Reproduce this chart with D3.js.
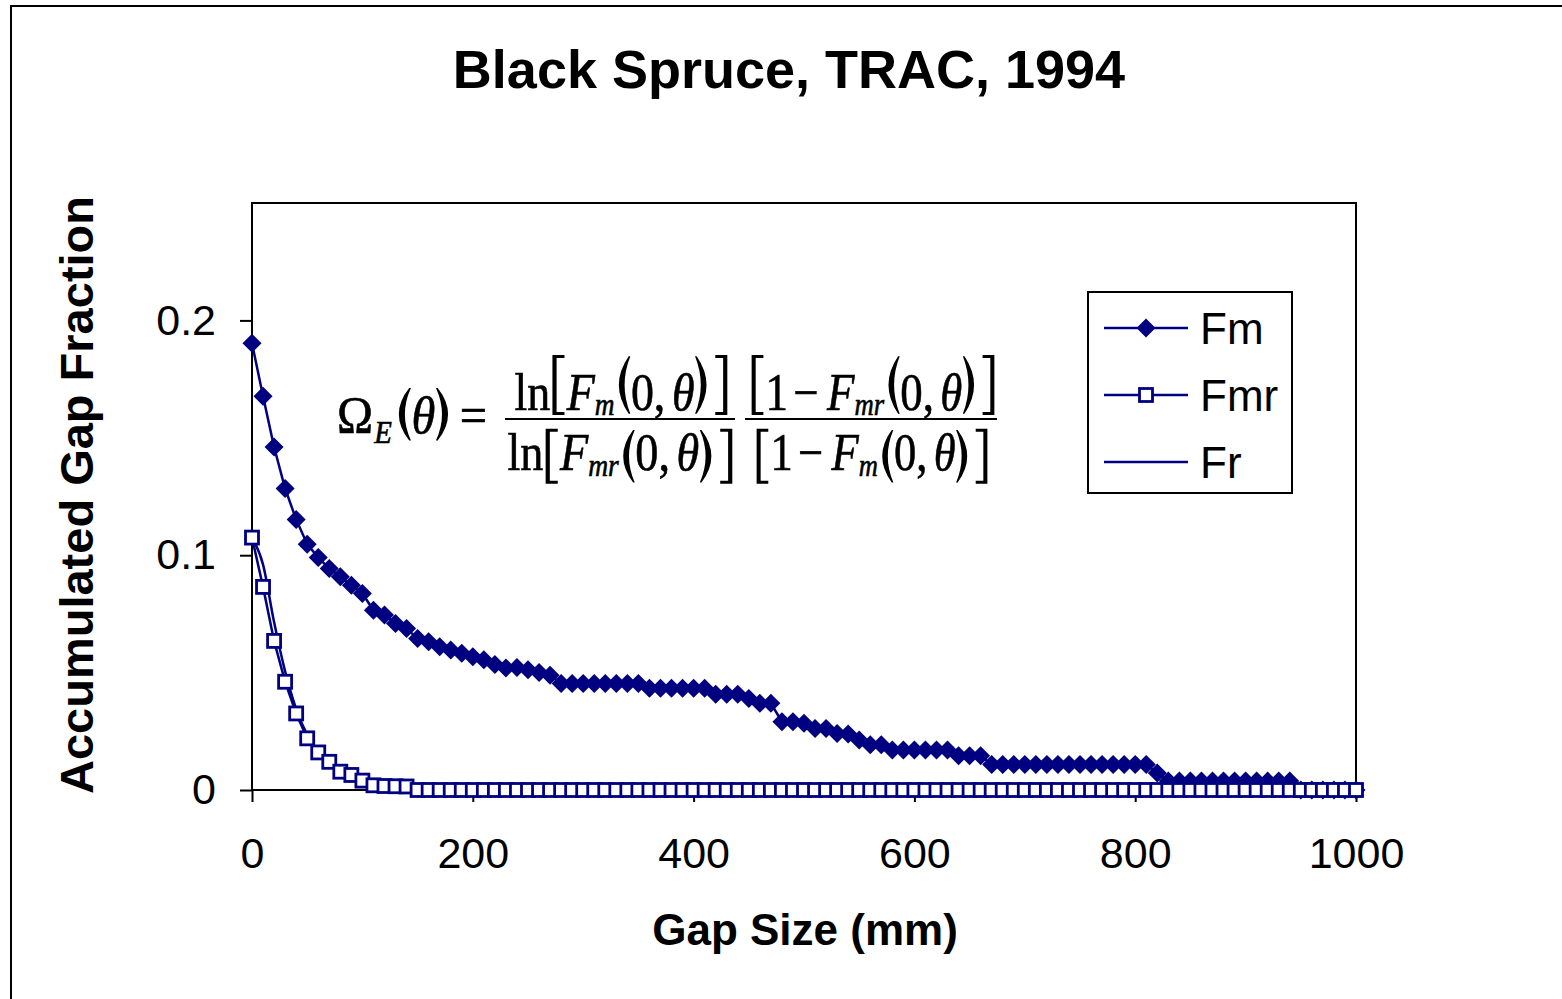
<!DOCTYPE html>
<html>
<head>
<meta charset="utf-8">
<script src="https://cdn.jsdelivr.net/npm/d3@7"></script>
<style>
  body { margin: 0; background: #fff; }
  svg { display: block; }
</style>
</head>
<body>
<div id="chart"></div>
<script>
// gap sizes (mm), sampled every 10 mm
const gapSizes = [
  0, 10, 20, 30, 40, 50, 60, 70, 80, 90,
  100, 110, 120, 130, 140, 150, 160, 170, 180, 190,
  200, 210, 220, 230, 240, 250, 260, 270, 280, 290,
  300, 310, 320, 330, 340, 350, 360, 370, 380, 390,
  400, 410, 420, 430, 440, 450, 460, 470, 480, 490,
  500, 510, 520, 530, 540, 550, 560, 570, 580, 590,
  600, 610, 620, 630, 640, 650, 660, 670, 680, 690,
  700, 710, 720, 730, 740, 750, 760, 770, 780, 790,
  800, 810, 820, 830, 840, 850, 860, 870, 880, 890,
  900, 910, 920, 930, 940, 950, 960, 970, 980, 990,
  1000
];

const fm = [
  0.1903, 0.1677, 0.1461, 0.1284, 0.1152, 0.1047, 0.0990, 0.0943, 0.0908, 0.0872,
  0.0837, 0.0766, 0.0745, 0.0709, 0.0688, 0.0645, 0.0631, 0.0610, 0.0596, 0.0582,
  0.0567, 0.0555, 0.0535, 0.0520, 0.0522, 0.0512, 0.0500, 0.0489, 0.0454, 0.0454,
  0.0454, 0.0454, 0.0454, 0.0454, 0.0454, 0.0454, 0.0433, 0.0433, 0.0433, 0.0433,
  0.0433, 0.0433, 0.0408, 0.0408, 0.0408, 0.0390, 0.0369, 0.0369, 0.0291, 0.0291,
  0.0284, 0.0262, 0.0262, 0.0241, 0.0238, 0.0213, 0.0193, 0.0193, 0.0170, 0.0170,
  0.0170, 0.0170, 0.0170, 0.0170, 0.0146, 0.0146, 0.0146, 0.0109, 0.0109, 0.0109,
  0.0109, 0.0109, 0.0109, 0.0109, 0.0109, 0.0109, 0.0109, 0.0109, 0.0109, 0.0109,
  0.0109, 0.0109, 0.0072, 0.0038, 0.0038, 0.0038, 0.0038, 0.0038, 0.0038, 0.0038,
  0.0038, 0.0038, 0.0038, 0.0038, 0.0038, 0, 0, 0, 0, 0,
  0
];

const fmr = [
  0.1075, 0.0865, 0.0635, 0.0461, 0.0326, 0.0220, 0.0160, 0.0120, 0.0078, 0.0064,
  0.0040, 0.0020, 0.0017, 0.0016, 0.0015, 0, 0, 0, 0, 0,
  0, 0, 0, 0, 0, 0, 0, 0, 0, 0,
  0, 0, 0, 0, 0, 0, 0, 0, 0, 0,
  0, 0, 0, 0, 0, 0, 0, 0, 0, 0,
  0, 0, 0, 0, 0, 0, 0, 0, 0, 0,
  0, 0, 0, 0, 0, 0, 0, 0, 0, 0,
  0, 0, 0, 0, 0, 0, 0, 0, 0, 0,
  0, 0, 0, 0, 0, 0, 0, 0, 0, 0,
  0, 0, 0, 0, 0, 0, 0, 0, 0, 0,
  0
];

const fr = [
  0.1075, 0.0960, 0.0715, 0.0505, 0.0345, 0.0235, 0.0165, 0.0115, 0.0080, 0.0052,
  0.0035, 0.0022, 0.0014, 0.0008, 0.0004, 0, 0, 0, 0, 0,
  0, 0, 0, 0, 0, 0, 0, 0, 0, 0,
  0, 0, 0, 0, 0, 0, 0, 0, 0, 0,
  0, 0, 0, 0, 0, 0, 0, 0, 0, 0,
  0, 0, 0, 0, 0, 0, 0, 0, 0, 0,
  0, 0, 0, 0, 0, 0, 0, 0, 0, 0,
  0, 0, 0, 0, 0, 0, 0, 0, 0, 0,
  0, 0, 0, 0, 0, 0, 0, 0, 0, 0,
  0, 0, 0, 0, 0, 0, 0, 0, 0, 0,
  0
];

const xTicks = [0, 200, 400, 600, 800, 1000];
const yTicks = [0, 0.1, 0.2];
const legendNames = ['Fm', 'Fmr', 'Fr'];

const width = 1562;
const height = 999;
const navy = '#000080';
const sans = 'Liberation Sans, Arial, sans-serif';
const serif = 'Liberation Serif, Times New Roman, serif';

const margin = { left: 252, right: 1356, top: 203, bottom: 790 };

const svg = d3.select('#chart')
  .append('svg')
  .attr('width', width)
  .attr('height', height);

// outer chart border
svg.append('rect')
  .attr('x', 11).attr('y', 6)
  .attr('width', 1600).attr('height', 1100)
  .attr('fill', '#fff')
  .attr('stroke', '#000')
  .attr('stroke-width', 2);

const x = d3.scaleLinear()
  .domain([0, 1000])
  .range([margin.left, margin.right]);

const y = d3.scaleLinear()
  .domain([0, 0.25])
  .range([margin.bottom, margin.top]);

// title
svg.append('text')
  .attr('x', 789).attr('y', 88)
  .attr('text-anchor', 'middle')
  .attr('font-family', sans)
  .attr('font-weight', 'bold')
  .attr('font-size', 54)
  .text('Black Spruce, TRAC, 1994');

// axes
const xAxis = svg.append('g')
  .attr('transform', `translate(0,${margin.bottom})`)
  .call(d3.axisBottom(x).tickValues(xTicks).tickSize(12).tickPadding(35).tickFormat(d3.format('d')));

const yAxis = svg.append('g')
  .attr('transform', `translate(${margin.left},0)`)
  .call(d3.axisLeft(y).tickValues(yTicks).tickSize(12).tickPadding(24).tickFormat(d => d === 0 ? '0' : d3.format('.1f')(d)));

[xAxis, yAxis].forEach(ax => {
  ax.select('.domain').remove();
  ax.selectAll('line').attr('stroke', '#000').attr('stroke-width', 2);
  ax.selectAll('text')
    .attr('font-family', sans)
    .attr('font-size', 43)
    .attr('fill', '#000');
});

// plot frame
svg.append('rect')
  .attr('x', margin.left).attr('y', margin.top)
  .attr('width', margin.right - margin.left)
  .attr('height', margin.bottom - margin.top)
  .attr('fill', 'none')
  .attr('stroke', '#000')
  .attr('stroke-width', 2);

// axis titles
svg.append('text')
  .attr('x', 805).attr('y', 945)
  .attr('text-anchor', 'middle')
  .attr('font-family', sans)
  .attr('font-weight', 'bold')
  .attr('font-size', 44)
  .text('Gap Size (mm)');

svg.append('text')
  .attr('transform', 'translate(93,495) rotate(-90)')
  .attr('text-anchor', 'middle')
  .attr('font-family', sans)
  .attr('font-weight', 'bold')
  .attr('font-size', 47)
  .text('Accumulated Gap Fraction');

// series
const diamond = 'M0,-9.5L9.5,0L0,9.5L-9.5,0Z';
const fmData = gapSizes.map((g, i) => [g, fm[i]]);
const fmrData = gapSizes.map((g, i) => [g, fmr[i]]);
const frData = gapSizes.map((g, i) => [g, fr[i]]);

const line = d3.line().x(d => x(d[0])).y(d => y(d[1]));

svg.append('path')
  .datum(fmData)
  .attr('d', line)
  .attr('fill', 'none')
  .attr('stroke', navy)
  .attr('stroke-width', 2.5);

svg.append('g')
  .selectAll('path')
  .data(fmData)
  .enter()
  .append('path')
  .attr('d', diamond)
  .attr('transform', d => `translate(${x(d[0])},${y(d[1])})`)
  .attr('fill', navy);

svg.append('path')
  .datum(frData)
  .attr('d', d3.line().x(d => x(d[0])).y(d => y(d[1])).curve(d3.curveMonotoneX))
  .attr('fill', 'none')
  .attr('stroke', navy)
  .attr('stroke-width', 2.5);

svg.append('path')
  .datum(fmrData)
  .attr('d', line)
  .attr('fill', 'none')
  .attr('stroke', navy)
  .attr('stroke-width', 2.5);

svg.append('g')
  .selectAll('rect')
  .data(fmrData)
  .enter()
  .append('rect')
  .attr('x', d => x(d[0]) - 6.5)
  .attr('y', d => y(d[1]) - 6.5)
  .attr('width', 13)
  .attr('height', 13)
  .attr('fill', '#fff')
  .attr('stroke', navy)
  .attr('stroke-width', 2.8);

// legend
const legend = svg.append('g');
legend.append('rect')
  .attr('x', 1088).attr('y', 292)
  .attr('width', 204).attr('height', 201)
  .attr('fill', '#fff')
  .attr('stroke', '#000')
  .attr('stroke-width', 2);

const legendY = d3.scalePoint().domain(legendNames).range([328, 462]);

legendNames.forEach(name => {
  const ly = legendY(name);
  legend.append('line')
    .attr('x1', 1104).attr('x2', 1188)
    .attr('y1', ly).attr('y2', ly)
    .attr('stroke', navy)
    .attr('stroke-width', 2.5);
  if (name === 'Fm') {
    legend.append('path')
      .attr('d', diamond)
      .attr('transform', `translate(1146,${ly})`)
      .attr('fill', navy);
  } else if (name === 'Fmr') {
    legend.append('rect')
      .attr('x', 1139.5).attr('y', ly - 6.5)
      .attr('width', 13).attr('height', 13)
      .attr('fill', '#fff')
      .attr('stroke', navy)
      .attr('stroke-width', 2.8);
  }
  legend.append('text')
    .attr('x', 1200).attr('y', ly + 16)
    .attr('font-family', sans)
    .attr('font-size', 44)
    .text(name);
});

// equation: text runs plus drawn brackets / parentheses
const eq = svg.append('g').attr('fill', '#000');
const base = 42;
const sub = 25;
const SY = 1.25;

function delimPath(kind, w, top, bot) {
  const mid = (top + bot) / 2;
  const t = 3.8;
  const st = 2.4;
  if (kind === '[') {
    return `M2,${top}H${w - 2}V${top + st}H${2 + t}V${bot - st}H${w - 2}V${bot}H2Z`;
  }
  if (kind === ']') {
    return `M${w - 2},${top}H2V${top + st}H${w - 2 - t}V${bot - st}H2V${bot}H${w - 2}Z`;
  }
  if (kind === '(') {
    return `M${w - 2},${top}Q-5,${mid} ${w - 2},${bot}L${w - 0.5},${bot}Q4,${mid} ${w - 0.5},${top}Z`;
  }
  return `M2,${top}Q${w + 5},${mid} 2,${bot}L0.5,${bot}Q${w - 4},${mid} 0.5,${top}Z`;
}

// lay out tokens along a baseline at 0, return group and width
function layout(tokens, span) {
  const g = eq.append('g');
  let cx = 0;
  tokens.forEach(t => {
    if (t.d) {
      const w = 15;
      const inset = (t.d === '(' || t.d === ')') ? 1 : 0;
      g.append('path')
        .attr('d', delimPath(t.d, w, span[0] + inset, span[1] - inset))
        .attr('transform', `translate(${cx},0)`);
      cx += w + (t.sp || 0);
      return;
    }
    const el = g.append('text')
      .attr('x', cx)
      .attr('y', t.dy || 0)
      .attr('font-family', serif)
      .attr('font-size', t.size || base)
      .attr('font-style', t.it ? 'italic' : 'normal')
      .attr('stroke', '#000')
      .attr('stroke-width', 0.5)
      .text(t.s);
    cx += el.node().getComputedTextLength() + (t.sp || 0);
  });
  return { g, w: cx };
}

function place(tokens, span, cxTarget, wTarget, y0) {
  const r = layout(tokens, span);
  const sx = wTarget / r.w;
  r.g.attr('transform', `translate(${cxTarget - wTarget / 2},${y0}) scale(${sx},${SY})`);
}

const fTerm = (subscript, dy) => [
  { s: 'F', it: true, sp: 0 }, { s: subscript, it: true, size: sub, dy: dy, sp: 0 },
  { d: '(' }, { s: '0,', sp: 6 }, { s: 'θ', it: true, sp: 0 }, { d: ')', sp: 2 }, { d: ']' }
];
const lhs = [
  { s: 'Ω', sp: 1 },
  { s: 'E', it: true, size: sub, dy: 8, sp: 2 },
  { d: '(' }, { s: 'θ', it: true, sp: 0 }, { d: ')', sp: 6 },
  { s: '=' }
];
const num1 = [{ s: 'ln', sp: 0 }, { d: '[' }].concat(fTerm('m', 4));
const den1 = [{ s: 'ln', sp: 0 }, { d: '[' }].concat(fTerm('mr', 5));
const num2 = [{ d: '[' }, { s: '1', sp: 5 }, { s: '−', sp: 8 }].concat(fTerm('mr', 4));
const den2 = [{ d: '[' }, { s: '1', sp: 5 }, { s: '−', sp: 8 }].concat(fTerm('m', 5));

const spanNum = [-44, 4];
const spanDen = [-33, 11];

place(lhs, [-37, 7], 412, 150, 433);
place(num1, spanNum, 622, 215, 410);
place(den1, spanDen, 621, 227, 470);
place(num2, spanNum, 873, 247, 410);
place(den2, spanDen, 872, 235, 470);

eq.append('line').attr('x1', 505).attr('x2', 735).attr('y1', 419).attr('y2', 419)
  .attr('stroke', '#000').attr('stroke-width', 2.2);
eq.append('line').attr('x1', 745).attr('x2', 997).attr('y1', 419).attr('y2', 419)
  .attr('stroke', '#000').attr('stroke-width', 2.2);
</script>
</body>
</html>
